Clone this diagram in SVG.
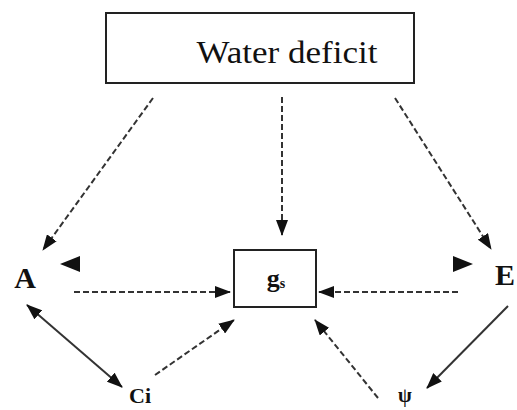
<svg xmlns="http://www.w3.org/2000/svg" width="517" height="410" viewBox="0 0 517 410">
<defs>
<marker id="ah" viewBox="0 0 16 12" refX="15" refY="6" markerWidth="16" markerHeight="12" markerUnits="userSpaceOnUse" orient="auto-start-reverse">
<path d="M0,0 L16,6 L0,12 Z" fill="#111"/>
</marker>
</defs>
<style>
.box{fill:#fff;stroke:#222;stroke-width:2}
.dash{fill:none;stroke:#333;stroke-width:2;stroke-dasharray:6 3}
.solid{fill:none;stroke:#333;stroke-width:2}
.t{font-family:"Liberation Serif","Times New Roman",serif;fill:#111}
.b{font-weight:bold}
</style>
<rect width="517" height="410" fill="#fff"/>
<g id="water">
<rect class="box" x="106" y="13" width="308" height="70"/>
<text class="t" x="287" y="63" font-size="31" text-anchor="middle" textLength="181" lengthAdjust="spacingAndGlyphs">Water deficit</text>
</g>
<g id="gs">
<rect class="box" x="234" y="250" width="82" height="57" stroke-width="1.5"/>
<text class="t b" x="276" y="287" font-size="26" text-anchor="middle">g<tspan font-size="14" dy="1">s</tspan></text>
</g>
<g id="A">
<text class="t b" x="25" y="288" font-size="30" text-anchor="middle">A</text>
<path d="M60,264 L80,256 L80,272 Z" fill="#111"/>
</g>
<g id="E">
<text class="t b" x="505" y="285" font-size="30" text-anchor="middle">E</text>
<path d="M473,264 L453,256 L453,272 Z" fill="#111"/>
</g>
<g id="Ci">
<text class="t b" x="140" y="403" font-size="22" text-anchor="middle">Ci</text>
</g>
<g id="psi">
<text class="t b" x="405" y="402" font-size="20" text-anchor="middle">ψ</text>
</g>
<g id="connectors">
<line class="dash" x1="282" y1="97" x2="282" y2="235" marker-end="url(#ah)"/>
<line class="dash" x1="153" y1="98" x2="43" y2="250" marker-end="url(#ah)"/>
<line class="dash" x1="395" y1="98" x2="491" y2="249" marker-end="url(#ah)"/>
<line class="dash" x1="74" y1="292" x2="230" y2="292" marker-end="url(#ah)"/>
<line class="dash" x1="458" y1="292" x2="319" y2="292" marker-end="url(#ah)"/>
<line class="dash" x1="155" y1="375" x2="234" y2="320" marker-end="url(#ah)"/>
<line class="dash" x1="378" y1="398" x2="315" y2="320" marker-end="url(#ah)"/>
<line class="solid" x1="27" y1="305" x2="122" y2="387" marker-start="url(#ah)" marker-end="url(#ah)"/>
<line class="solid" x1="508" y1="306" x2="427" y2="388" marker-end="url(#ah)"/>
</g>
</svg>
